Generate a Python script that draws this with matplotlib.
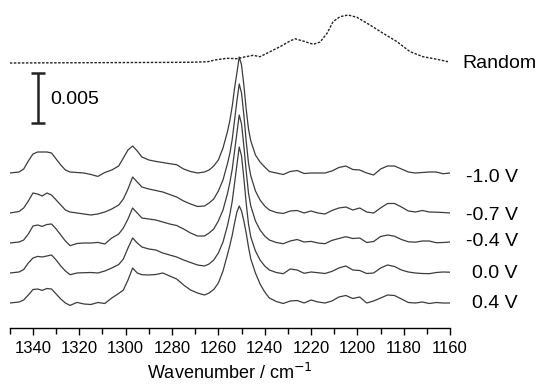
import numpy as np
import matplotlib
matplotlib.use("Agg")
import matplotlib.pyplot as plt
from matplotlib.ticker import MultipleLocator
import matplotlib.transforms as mtransforms

plt.rcParams['font.family'] = ['Liberation Sans', 'DejaVu Sans']

# shared wavenumber grid (cm-1) for the potential-dependent spectra
wn = [1350, 1346, 1344, 1342, 1340, 1338, 1336, 1334, 1332, 1330, 1328, 1326, 1324,
      1321, 1318, 1315, 1312, 1309, 1306, 1303, 1301, 1299, 1297, 1295, 1293, 1290,
      1287, 1284, 1281, 1278, 1275, 1272, 1269, 1266, 1264, 1262, 1260, 1258, 1256,
      1255, 1254, 1253, 1252, 1251, 1250, 1249, 1248, 1247, 1246, 1244, 1242, 1240,
      1238, 1235, 1232, 1229, 1226, 1223, 1220, 1217, 1214, 1211, 1208, 1205, 1202,
      1199, 1196, 1193, 1190, 1187, 1184, 1181, 1178, 1175, 1172, 1169, 1166, 1163, 1160]

# absorbance above each trace's own baseline, in units of 1e-4
dA_m10 = [0, 1, 4, 12, 19, 21, 21, 21, 20, 14, 8, 3, 1,
          0.5, 0, -1.5, -3.4, 0.5, 3, 7, 15, 23, 27, 22, 16, 13,
          11.6, 10.5, 9.3, 8.3, 4, 1.5, 0, 1, 3, 7, 13, 25, 42,
          53, 67, 85, 100, 116, 108, 88, 64, 44, 32, 18, 11, 6,
          1.5, 0, -1.5, 1.5, 2.5, -0.5, 0, 0, 0, 2, 5.5, 7, 3.5,
          3, 0, -2, 4, 7, 7, 4, 1, 0, 0.5, 1, 1, -0.7, 0]
dA_m07 = [0, 1.5, 5, 12, 20, 19, 17, 20, 18, 13, 8, 3, 1,
          0, -1, -2, -1, 1, 4, 8, 14, 24, 36, 31, 26, 24,
          22.5, 21, 18.5, 16, 12, 9, 6.5, 7, 10, 14, 22, 33, 50,
          60, 74, 93, 112, 129, 120, 98, 72, 50, 37, 22, 13, 7,
          3, 0.5, -0.5, 2, 2.5, 0, 2, 0, -1, 2.5, 5, 6, 3,
          5, 1, 0, 5, 9.5, 9.5, 6, 2, 1, 2.5, 1, 0.8, 0.5, 0]
dA_m04 = [0, 1, 3, 9, 17, 18, 16.6, 18.5, 19, 14, 8, 2, -2.7,
          -0.5, 0, 0, 0.6, -1, 5, 9, 15, 24, 35, 30, 25, 24,
          23, 21, 19, 17.5, 14, 10, 7, 7, 10, 14, 22, 33, 50,
          61, 74, 92, 110, 128, 119, 97, 72, 50, 37, 22, 13, 7,
          3, 0.5, -0.7, 2, 3.5, 1, 1.6, 0, -0.7, 2.6, 4.5, 6.3, 4.5,
          5, 0.5, 1.5, 6.5, 8, 6.8, 3.5, 1.2, 0.8, 2, 2, 0.3, 0.5, 1]
dA_00 = [0, 1, 3.5, 10, 15, 16.6, 16, 17, 18, 13, 7, 2, -1.7,
         0, 0.3, 0.5, 0, 2, 5, 8.5, 14, 25, 35, 30, 26, 24,
         23, 20, 18, 16, 13, 10.5, 8, 7, 9, 13, 20, 31, 48,
         59, 72, 90, 108, 126, 117, 95, 70, 49, 36, 22, 13, 7,
         3, 0.5, -0.7, 4, 3, -0.3, 1, 0.3, -0.5, 1.6, 5, 7, 3,
         2.5, -0.5, 0, 5, 8, 6.5, 3, 1, 0, -0.5, -0.7, 0.5, 1, 0.8]
dA_p04 = [0, 1, 3, 8, 13.5, 14, 12.6, 14.5, 14, 9, 4, 0, -2.4,
          0.6, -1, -1.5, 0.5, -0.5, 5, 9.5, 13, 23, 35, 30, 28.3, 28,
          28.5, 30, 27, 24, 18, 13, 10, 8, 10, 13.5, 20, 32, 49,
          58, 68, 80, 91, 97, 92, 82, 70, 56, 44, 30, 19, 11,
          5, 1.5, -0.5, 2, 2.5, 0, 3, 1, 0, 2, 6, 7.5, 4.5,
          6, 0, 2, 5, 8, 7.5, 4, 0.5, 0, 1, -0.5, 0.5, 0, 0]

spectra = [dA_m10, dA_m07, dA_m04, dA_00, dA_p04]
labels = ['-1.0 V', '-0.7 V', '-0.4 V', '0.0 V', '0.4 V']
offsets = [155, 115, 85, 55, 25]   # baselines, 1e-4 units

# random-orientation reference spectrum
rand_wn = [1350, 1272, 1264.5, 1261.5, 1256.3, 1252, 1249.4, 1245, 1242, 1237.7,
           1233.4, 1229.1, 1226.9, 1223.5, 1219, 1216.1, 1213.1, 1210.5, 1207.5,
           1204, 1200.2, 1194.6, 1188.9, 1182.9, 1177.3, 1171.7, 1165.6, 1160.9]
rand_dA = [0, 0.7, 1.3, 3, 4.7, 4.3, 5.7, 7.7, 6.3, 11.3,
           16.3, 22, 24.2, 22, 18.7, 21, 29.7, 41.3, 46.3,
           48, 45.7, 38, 29.7, 21.3, 11.3, 6.3, 3.7, 1.3]
rand_offset = 265

scale = 1e-4

fig = plt.figure(figsize=(5.37, 3.87), dpi=100)
ax = fig.add_axes([9.8 / 537, 1 - 328 / 387, 440.3 / 537, 323 / 387])

for dA, off in zip(spectra, offsets):
    ax.plot(wn, (np.array(dA) + off) * scale, color='#3c3c3c', lw=0.9)

ax.plot(rand_wn, (np.array(rand_dA) + rand_offset) * scale, color='#222222',
        lw=1.0, linestyle=(0, (1.8, 1.1)))

# trace labels: x in axes fraction, y in data
trans = mtransforms.blended_transform_factory(ax.transAxes, ax.transData)
ax.text((462 - 9.8) / 440.3, (rand_offset - 0.5) * scale, 'Random', transform=trans,
        ha='left', va='center', fontsize=14, clip_on=False)
label_y = [150, 113, 86, 55, 24]
for lab, ly in zip(labels, label_y):
    ax.text((518 - 9.8) / 440.3, ly * scale, lab, transform=trans,
            ha='right', va='center', fontsize=14, clip_on=False)

# 0.005 scale bar
bar_x = 1337.8
bar_y0 = 0.0205
ax.plot([bar_x, bar_x], [bar_y0, bar_y0 + 0.005], color='#222222', lw=1.8,
        solid_capstyle='butt')
ax.plot([bar_x, bar_x], [bar_y0, bar_y0 + 0.005], ls='none', marker='_',
        ms=10, mew=1.8, color='#222222')
ax.text(1332.7, 0.0229, '0.005', ha='left', va='center', fontsize=14)

ax.set_xlim(1350, 1160)
ax.set_ylim(0, 0.0323)
ax.xaxis.set_major_locator(MultipleLocator(20))
ax.xaxis.set_minor_locator(MultipleLocator(10))
ax.tick_params(axis='x', which='major', direction='out', length=5, width=1,
               labelsize=12, pad=4.5)
ax.tick_params(axis='x', which='minor', direction='out', length=4, width=1)
ax.set_yticks([])
for s in ['left', 'top', 'right']:
    ax.spines[s].set_visible(False)
ax.spines['bottom'].set_linewidth(1)
ax.set_xlabel('Wavenumber / cm$^{-1}$', fontsize=13, labelpad=5)

fig.savefig('out.png', dpi=100)
